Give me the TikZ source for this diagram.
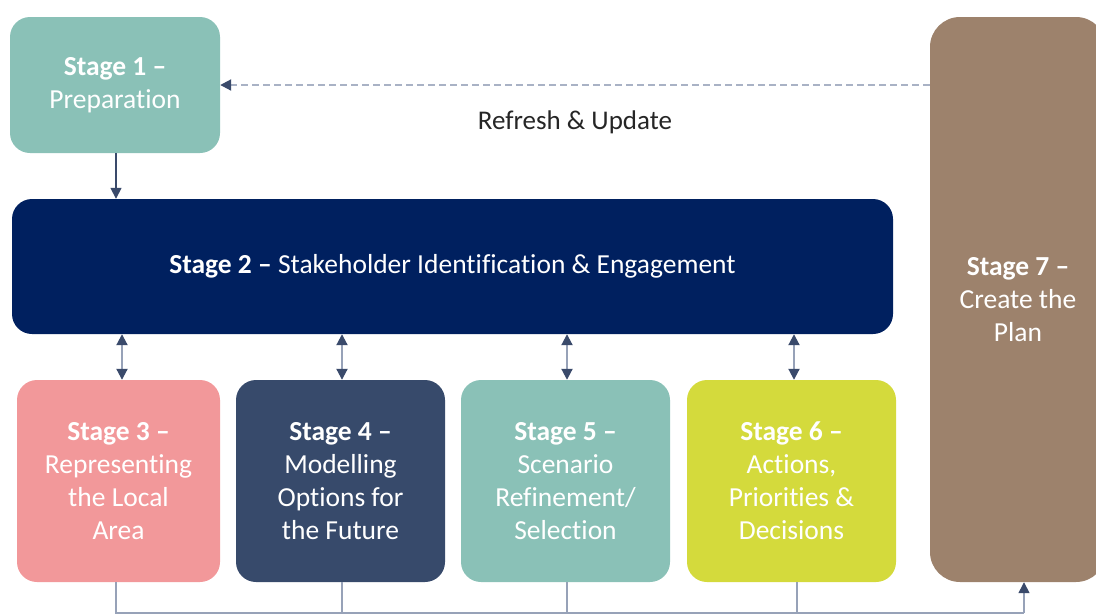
\documentclass[tikz,border=0pt]{standalone}
\usepackage{fontspec}
\setmainfont{Carlito}[Ligatures=NoCommon]
\usetikzlibrary{arrows.meta,positioning}

\definecolor{tealbox}{HTML}{8AC1B7}
\definecolor{navybox}{HTML}{00205F}
\definecolor{pinkbox}{HTML}{F2989A}
\definecolor{slatebox}{HTML}{374A6B}
\definecolor{limebox}{HTML}{D4DA3C}
\definecolor{brownbox}{HTML}{9D826C}
\definecolor{tipc}{HTML}{3A4A6B}
\definecolor{shaftc}{HTML}{97A2B8}
\definecolor{dashc}{HTML}{A9B2C5}

\tikzset{
  stagebox/.style={rounded corners=20pt, text=white, align=center, inner sep=0pt,
    font=\fontsize{27.5}{33}\selectfont},
  smallbox/.style={stagebox, minimum width=209pt, minimum height=202pt},
  flow/.style={line width=1.6pt, tipc, -{Triangle[length=11pt, width=11pt]}},
  dbl/.style={line width=2pt, shaftc, {Triangle[length=11pt, width=11pt, color=tipc]}-{Triangle[length=11pt, width=11pt, color=tipc]}},
  link/.style={line width=1.4pt, shaftc},
  refresh/.style={line width=2pt, dashc, dash pattern=on 7pt off 4pt, -{Triangle[length=11pt, width=11pt, color=tipc]}}
}

\begin{document}
\begin{tikzpicture}[x=1pt, y=-1pt]
  \useasboundingbox (0,0) rectangle (1096,616);
  \clip (0,0) rectangle (1096,616);

  % Stages 1, 2 and 7
  \node[stagebox, fill=tealbox, minimum width=210pt, minimum height=136pt] (s1) at (115,85)
    {\textbf{Stage 1 –}\\Preparation};
  \node[stagebox, fill=navybox, minimum width=881pt, minimum height=135pt] (s2) at (452.5,266.5)
    {\textbf{Stage 2 –} Stakeholder Identification \& Engagement};
  \node[stagebox, rounded corners=30pt, fill=brownbox, minimum width=176pt, minimum height=565pt] (s7) at (1018,299.5)
    {\textbf{Stage 7 –}\\Create the\\Plan};

  % Stages 3 to 6
  \node[smallbox, fill=pinkbox, minimum width=203pt] (s3) at (118.5,481)
    {\textbf{Stage 3 –}\\Representing\\the Local\\Area};
  \node[smallbox, fill=slatebox] (s4) at (340.5,481)
    {\textbf{Stage 4 –}\\Modelling\\Options for\\the Future};
  \node[smallbox, fill=tealbox] (s5) at (565.5,481)
    {\textbf{Stage 5 –}\\Scenario\\Refinement/\\Selection};
  \node[smallbox, fill=limebox] (s6) at (791.5,481)
    {\textbf{Stage 6 –}\\Actions,\\Priorities \&\\Decisions};

  % Refresh loop
  \draw[refresh] (s1.east -| s7.west) -- node[midway, yshift=-37pt, text=black!85, font=\fontsize{27}{33}\selectfont] (upd) {Refresh \& Update} (s1.east);

  % Stage 1 into stage 2
  \draw[flow] ([xshift=1pt]s1.south) -- ([xshift=1pt]s1.south |- s2.north);

  % Engagement with stages 3 to 6
  \foreach \s/\dx in {s3/3.5,s4/1.5,s5/1.5,s6/2.5} {
    \draw[dbl] ([xshift=\dx pt]\s.north |- s2.south) -- ([xshift=\dx pt]\s.north);
  }

  % Outputs into stage 7
  \coordinate (base) at (0,613);
  \draw[link] ([xshift=-2.5pt]s3.south) |- ([xshift=6pt]s7.south |- base);
  \foreach \s/\dx in {s4/1.5,s5/1.5,s6/5.5} {
    \draw[link] ([xshift=\dx pt]\s.south) -- ([xshift=\dx pt]\s.south |- base);
  }
  \draw[link, -{Triangle[length=11pt, width=11pt, color=tipc]}] ([xshift=6pt]s7.south |- base) -- ([xshift=6pt]s7.south);
\end{tikzpicture}
\end{document}
